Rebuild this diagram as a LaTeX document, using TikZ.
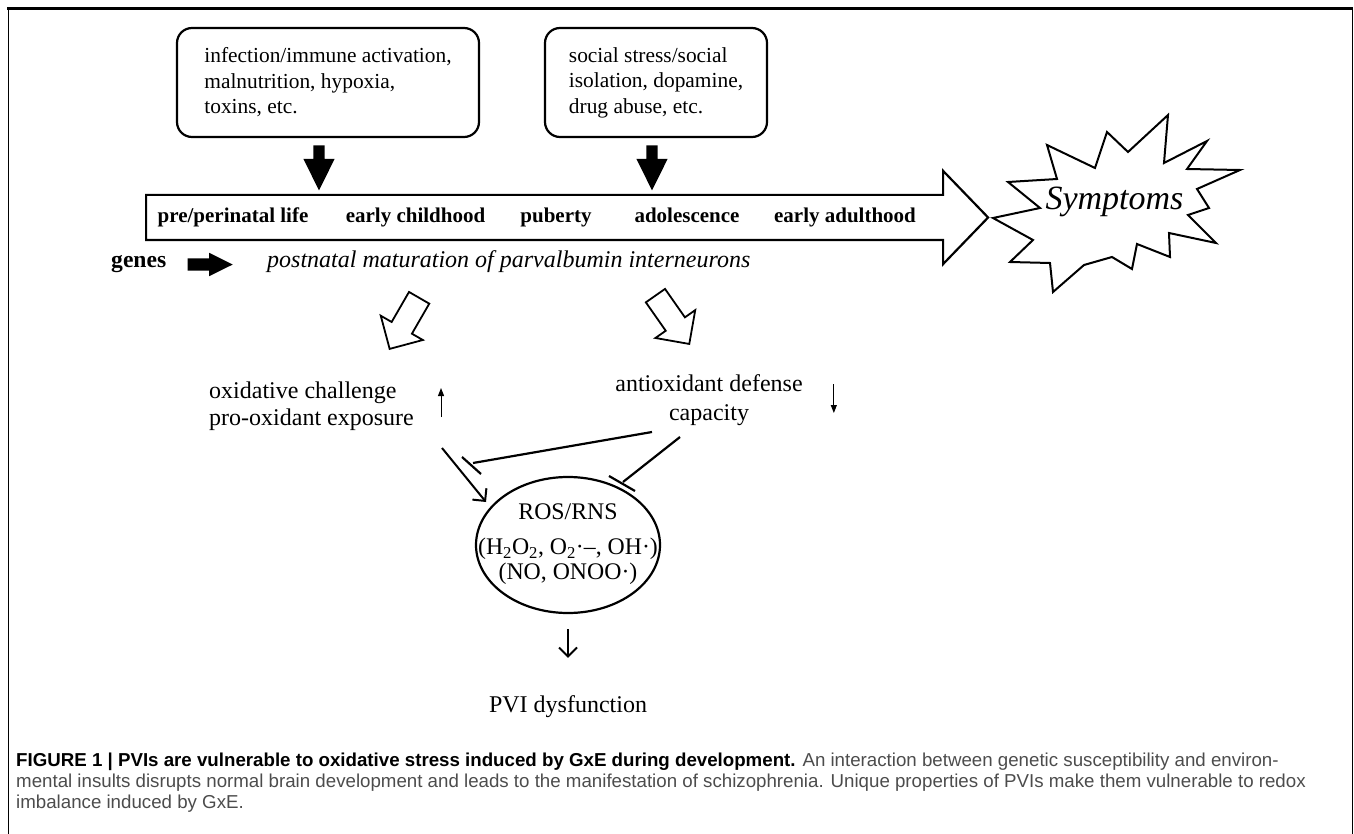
\documentclass[tikz,border=0pt]{standalone}
\usepackage{fontspec}
\setmainfont{Liberation Serif}
\setsansfont{Liberation Sans}
\usetikzlibrary{positioning}
\usetikzlibrary{arrows.meta}
\usetikzlibrary{calc}
\usetikzlibrary{shapes.arrows}
\usetikzlibrary{shapes.geometric}

\newcommand{\fsize}[2]{\fontsize{#1}{#2}\selectfont}

\begin{document}
\begin{tikzpicture}[x=1pt, y=-1pt,
    insult/.style={draw, line width=2.2pt, rounded corners=15pt, minimum height=109pt, align=left, font=\fsize{21.4}{25.5}},
    fatarrow/.style={single arrow, fill=black, inner xsep=0pt, inner ysep=5.5pt, minimum height=45pt, single arrow head extend=10pt, single arrow tip angle=53, rotate=-90, anchor=tail},
    hollow/.style={single arrow, draw, line width=1.8pt, inner xsep=0pt, inner ysep=10.8pt, minimum height=59pt, single arrow head extend=12.6pt, single arrow tip angle=90, anchor=tip},
    stage/.style={font=\bfseries\fsize{21}{25}, anchor=base, inner sep=0pt},
    plain/.style={font=\fsize{24}{27}, inner sep=0pt},
    pathway/.style={line width=2pt, -{Straight Barb[length=9pt, width=18pt]}},
    inhibit/.style={line width=2.2pt},
    change/.style={line width=1pt, -{Triangle[length=8pt, width=6pt]}},
    burst/.style={line width=2pt, line join=miter}]
    \useasboundingbox (0,0) rectangle (1354,834);

    % frame of the figure
    \draw[line width=1pt] (8,8) -- (8,834);
    \draw[line width=1pt] (1352,8) -- (1352,834);
    \draw[line width=2.7pt] (7,8.5) -- (1353,8.5);

    % environmental insults
    \node[insult, minimum width=302pt] (prenatal) at (328,82.5) {infection/immune activation,\\ malnutrition, hypoxia,\\ toxins, etc.};
    \node[insult, minimum width=222pt] (social) at (656,82.5) {social stress/social\\ isolation, dopamine,\\ drug abuse, etc.};

    % development time line
    \node[single arrow, draw, line width=2.2pt, inner xsep=0pt, inner ysep=21.5pt, minimum height=842pt,
          single arrow head extend=24pt, single arrow tip angle=92, anchor=tail] (timeline) at (145,217.5) {};
    \node[fatarrow] (hit1) at ([xshift=-9pt, yshift=-7pt]prenatal.south) {};
    \node[fatarrow] (hit2) at ([xshift=-4pt, yshift=-7pt]social.south) {};

    \foreach \x/\stage [count=\i] in {233/{pre/perinatal life}, 415.5/{early childhood}, 556/puberty, 687/adolescence, 845/{early adulthood}}
        \node[stage] (stage\i) at (\x,223) {\stage};

    % symptoms
    \draw[burst] (993,218) -- (1040,208) -- (1008,182) -- (1057,179) -- (1047,145) -- (1095,168) -- (1107,132) -- (1128,152)
        -- (1168,115) -- (1164,163) -- (1207,141) -- (1187,169) -- (1240,170) -- (1197,189) -- (1209,208) -- (1188,215)
        -- (1216,243) -- (1169,233) -- (1170,257) -- (1137,244) -- (1132,269) -- (1112,257) -- (1084,265) -- (1053,292)
        -- (1050,263) -- (1010,262) -- (1033,240) -- cycle;
    \node[font=\itshape\fsize{34}{36}, anchor=base, inner sep=0pt] (symptoms) at (1114.5,210) {Symptoms};

    % genes and maturation
    \node[font=\bfseries\fsize{23.6}{26}, anchor=base west, inner sep=0pt] (genes) at (111,268) {genes};
    \node[single arrow, fill=black, inner xsep=0pt, inner ysep=6pt, minimum height=45pt, single arrow head extend=5.5pt,
          single arrow tip angle=53, anchor=tail] (genesarrow) at ([xshift=21pt]genes.east) {};
    \node[font=\itshape\fsize{24}{27}, anchor=base west, inner sep=0pt] (maturation) at (267,268) {postnatal maturation of parvalbumin interneurons};

    \node[hollow, rotate=-120] (oxarrow) at (389,350) {};
    \node[hollow, rotate=-55] (antiarrow) at (690,345) {};

    % redox balance
    \node[plain, align=left, anchor=west] (oxid) at (209,406) {oxidative challenge\\ pro-oxidant exposure};
    \node[plain, align=center, font=\fsize{24}{29}] (antiox) at (709,400) {antioxidant defense\\ capacity};
    \draw[change] ($(oxid.east)+(27,11)$) -- ++(0,-29);
    \draw[change] ($(antiox.east)+(31,-16)$) -- ++(0,29);

    \node[ellipse, draw, line width=2.2pt, minimum width=184pt, minimum height=136pt, inner sep=0pt] (ros) at (568,545) {};
    \node[align=center, inner sep=0pt, font=\fsize{23.8}{25}] (rostext) at (568,544) {ROS/RNS\\[10pt] (H\textsubscript{2}O\textsubscript{2}, O\textsubscript{2}·–, OH·)\\ (NO, ONOO·)};

    % Define the coordinates of the points
    \coordinate (oxtail) at (442,448);
    \coordinate (oxtip) at (486,502);
    \coordinate (antitail1) at (652,432);
    \coordinate (block1) at (473,463);
    \coordinate (antitail2) at (680,437);
    \coordinate (block2) at (623,482);

    % Draw the lines
    \draw[pathway] (oxtail) -- (oxtip);
    \draw[inhibit] (antitail1) -- (block1);
    \draw[inhibit] ($(block1)+(-11,-6)$) -- ($(block1)+(8,11)$);
    \draw[inhibit] (antitail2) -- (block2);
    \draw[inhibit] ($(block2)+(-14,-6)$) -- ($(block2)+(12,9)$);

    \node[plain, anchor=base] (pvi) at (568,712) {PVI dysfunction};
    \draw[pathway] ([yshift=-15pt]ros.south) -- ([yshift=37pt]pvi.north);

    % caption
    \node[anchor=north west, inner sep=0pt, align=left, font=\sffamily\fsize{18.7}{21}, text=black!70] (caption) at (16,753)
        {\textcolor{black}{\bfseries FIGURE 1 | PVIs are vulnerable to oxidative stress induced by GxE during development.} An interaction between genetic susceptibility and environ-\\
         mental insults disrupts normal brain development and leads to the manifestation of schizophrenia. Unique properties of PVIs make them vulnerable to redox\\
         imbalance induced by GxE.};
\end{tikzpicture}
\end{document}
